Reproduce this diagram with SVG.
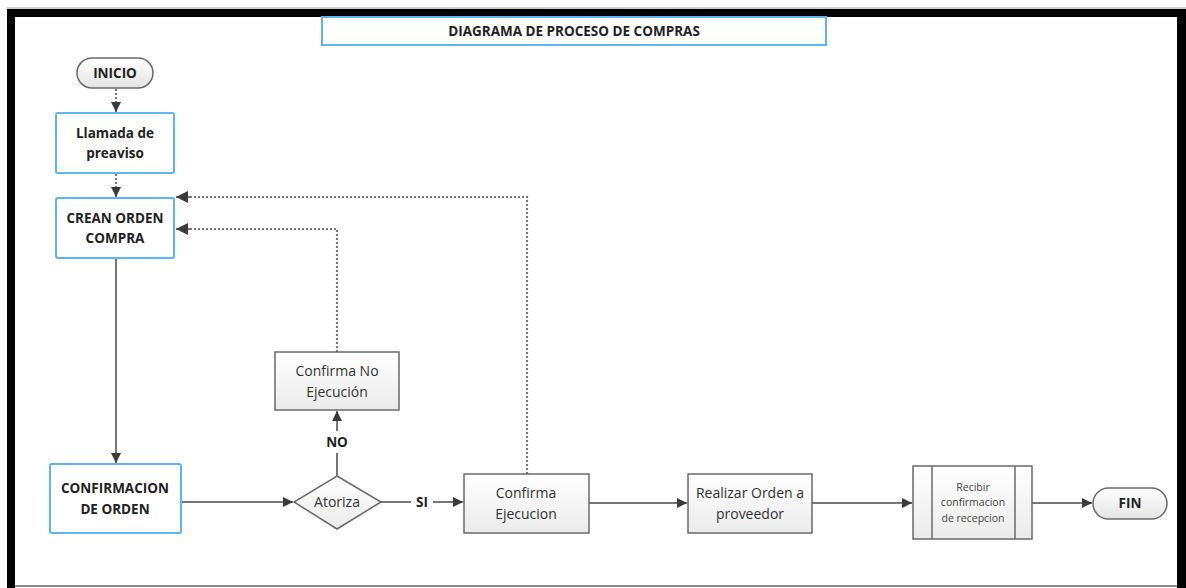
<svg xmlns="http://www.w3.org/2000/svg" width="1186" height="588" viewBox="0 0 1186 588">
<defs>
<linearGradient id="gbox" x1="0" y1="0" x2="0" y2="1"><stop offset="0" stop-color="#ffffff"/><stop offset="1" stop-color="#ebebeb"/></linearGradient>
<linearGradient id="gpill" x1="0" y1="0" x2="0" y2="1"><stop offset="0" stop-color="#ffffff"/><stop offset="1" stop-color="#e4e4e4"/></linearGradient>
<marker id="ah" viewBox="0 0 10 10" refX="10" refY="5" markerWidth="10" markerHeight="10" markerUnits="userSpaceOnUse" orient="auto"><path d="M0,0 L10,5 L0,10 z" fill="#3a3a3a"/></marker>
<marker id="ahd" viewBox="0 0 12 12" refX="12" refY="6" markerWidth="12" markerHeight="12" markerUnits="userSpaceOnUse" orient="auto"><path d="M0,0 L12,6 L0,12 z" fill="#3a3a3a"/></marker>
</defs>
<style>
.blue{fill:#fff;stroke:#5fb4f7;stroke-width:2}
.gray{fill:url(#gbox);stroke:#6a6a6a;stroke-width:1.5}
.pill{fill:url(#gpill);stroke:#6a6a6a;stroke-width:1.5}
.tb{font-family:"Open Sans","Liberation Sans",sans-serif;font-weight:bold;font-size:13.5px;fill:#222;text-anchor:middle}
.tn{font-family:"Open Sans","Liberation Sans",sans-serif;font-size:14px;fill:#333;text-anchor:middle}
.ts{font-family:"Open Sans","Liberation Sans",sans-serif;font-size:10.5px;fill:#444;text-anchor:middle}
.ln{fill:none;stroke:#4a4a4a;stroke-width:1.5}
.dot{fill:none;stroke:#777;stroke-width:2.2;stroke-dasharray:2 2}
</style>
<rect x="0" y="0" width="1186" height="588" fill="#fff"/>
<g id="frame">
<line x1="7" y1="8" x2="1186" y2="8" stroke="#999" stroke-width="1"/>
<rect x="7" y="9" width="1179" height="8" fill="#000"/>
<rect x="7" y="9" width="8" height="579" fill="#000"/>
<rect x="1177" y="9" width="9" height="579" fill="#000"/>
<line x1="15" y1="586" x2="1177" y2="586" stroke="#666" stroke-width="1.5"/>
</g>
<g id="title">
<rect x="322" y="17" width="504" height="28" fill="#fff" stroke="#5fb4f7" stroke-width="2"/>
<text class="tb" x="574" y="36" font-size="14">DIAGRAMA DE PROCESO DE COMPRAS</text>
</g>
<g id="connectors">
<path class="dot" d="M116,89 L116,102"/>
<path class="ln" d="M116,102 L116,112" marker-end="url(#ah)"/>
<path class="dot" d="M116,174 L116,186"/>
<path class="ln" d="M116,186 L116,197" marker-end="url(#ah)"/>
<path class="ln" d="M116,258 L116,463" marker-end="url(#ah)"/>
<path class="ln" d="M181,502 L293,502" stroke-width="2.5" stroke="#666" marker-end="url(#ah)"/>
<path class="ln" d="M337,476 L337,453"/>
<path class="ln" d="M337,431 L337,411" marker-end="url(#ah)"/>
<path class="ln" d="M381,502 L411,502"/>
<path class="ln" d="M433,502 L463,502" marker-end="url(#ah)"/>
<path class="ln" d="M589,503 L687,503" marker-end="url(#ah)"/>
<path class="ln" d="M812,503 L912,503" marker-end="url(#ah)"/>
<path class="ln" d="M1032,503 L1092,503" marker-end="url(#ah)"/>
<path class="dot" d="M337,352 L337,229 L190,229"/>
<path class="ln" d="M190,229 L176,229" stroke="none" marker-end="url(#ahd)"/>
<path class="dot" d="M527,474 L527,197 L190,197"/>
<path class="ln" d="M190,197 L176,197" stroke="none" marker-end="url(#ahd)"/>
<text class="tb" x="337" y="447" font-size="13">NO</text>
<text class="tb" x="422" y="507" font-size="13">SI</text>
</g>
<g id="inicio">
<rect class="pill" x="77" y="58" width="76" height="30" rx="15"/>
<text class="tb" x="115" y="78">INICIO</text>
</g>
<g id="llamada">
<rect class="blue" x="56" y="113" width="118" height="60" rx="2"/>
<text class="tb" x="115" y="138">Llamada de</text>
<text class="tb" x="115" y="158">preaviso</text>
</g>
<g id="crean">
<rect class="blue" x="56" y="198" width="118" height="60" rx="2"/>
<text class="tb" x="115" y="223">CREAN ORDEN</text>
<text class="tb" x="115" y="243">COMPRA</text>
</g>
<g id="confirmacion">
<rect class="blue" x="50" y="464" width="131" height="69" rx="2"/>
<text class="tb" x="115" y="493">CONFIRMACION</text>
<text class="tb" x="115" y="514">DE ORDEN</text>
</g>
<g id="confirmaNo">
<rect class="gray" x="275" y="352" width="124" height="58"/>
<text class="tn" x="337" y="376">Confirma No</text>
<text class="tn" x="337" y="397">Ejecución</text>
</g>
<g id="atoriza">
<path class="gray" d="M337,476 L381,502 L337,529 L294,502 z"/>
<text class="tn" x="337" y="507">Atoriza</text>
</g>
<g id="confirmaEj">
<rect class="gray" x="464" y="474" width="125" height="59"/>
<text class="tn" x="526" y="498">Confirma</text>
<text class="tn" x="526" y="519">Ejecucion</text>
</g>
<g id="realizar">
<rect class="gray" x="688" y="474" width="124" height="59"/>
<text class="tn" x="750" y="498">Realizar Orden a</text>
<text class="tn" x="750" y="519">proveedor</text>
</g>
<g id="recibir">
<rect class="gray" x="913" y="466" width="119" height="73"/>
<line x1="932" y1="466" x2="932" y2="539" stroke="#6a6a6a" stroke-width="1.5"/>
<line x1="1015" y1="466" x2="1015" y2="539" stroke="#6a6a6a" stroke-width="1.5"/>
<text class="ts" x="973" y="491">Recibir</text>
<text class="ts" x="973" y="506">confirmacion</text>
<text class="ts" x="973" y="522">de recepcion</text>
</g>
<g id="fin">
<rect class="pill" x="1093" y="488" width="74" height="31" rx="15.5"/>
<text class="tb" x="1130" y="508">FIN</text>
</g>
</svg>
